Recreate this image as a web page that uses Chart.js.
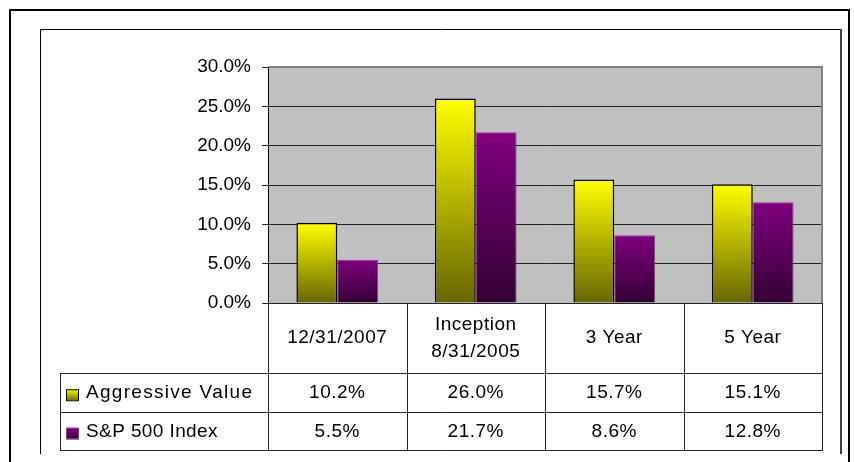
<!DOCTYPE html>
<html>
<head>
<meta charset="utf-8">
<script src="https://cdn.jsdelivr.net/npm/chart.js@4"></script>
<style>
  body { margin: 0; background: #fff; }
  canvas { display: block; }
</style>
</head>
<body>
<canvas id="chart" width="854" height="462"></canvas>
<script>
// Chart values
const categories = ["12/31/2007", ["Inception", "8/31/2005"], "3 Year", "5 Year"];
const aggressiveValue = [10.2, 26.0, 15.7, 15.1];
const sp500 = [5.5, 21.7, 8.6, 12.8];
const seriesNames = ["Aggressive Value", "S&P 500 Index"];

const FONT = "19px 'Liberation Sans', Arial, sans-serif";

// vertical gradient for each bar, from its top down to the zero line
function barGradient(top, bottom) {
    return ctx => {
        const chart = ctx.chart;
        if (!chart.chartArea || ctx.raw == null) return top;
        const y = chart.scales.y;
        const g = chart.ctx.createLinearGradient(0, y.getPixelForValue(ctx.raw), 0, y.getPixelForValue(0));
        g.addColorStop(0, top);
        g.addColorStop(1, bottom);
        return g;
    };
}

const frameAndTable = {
    id: "frameAndTable",
    beforeDraw(chart) {
        const { ctx, chartArea: a } = chart;
        ctx.save();
        ctx.fillStyle = "#c0c0c0";
        ctx.fillRect(a.left, a.top, a.right - a.left, a.bottom - a.top);
        ctx.restore();
    },
    afterDraw(chart) {
        const { ctx, chartArea: a } = chart;
        const x = chart.scales.x;
        const colW = (a.right - a.left) / categories.length;
        ctx.save();

        // outer frames
        ctx.strokeStyle = "#000";
        ctx.lineWidth = 2;
        ctx.beginPath();
        ctx.moveTo(10, 470); ctx.lineTo(10, 10); ctx.lineTo(849, 10); ctx.lineTo(849, 470);
        ctx.stroke();
        ctx.lineWidth = 1;
        ctx.beginPath();
        ctx.moveTo(40.5, 454); ctx.lineTo(40.5, 29.5); ctx.lineTo(840.5, 29.5);
        ctx.stroke();
        ctx.strokeStyle = "#404040";
        ctx.lineWidth = 2;
        ctx.beginPath();
        ctx.moveTo(841, 29); ctx.lineTo(841, 454);
        ctx.stroke();

        // plot area top/right border
        ctx.strokeStyle = "#808080";
        ctx.lineWidth = 2;
        ctx.beginPath();
        ctx.moveTo(a.left, a.top); ctx.lineTo(a.right, a.top); ctx.lineTo(a.right, a.bottom);
        ctx.stroke();

        // data table
        const rowTop = 373, rowH = 38.5, legendLeft = 60.5;
        const tableBottom = rowTop + rowH * 2;
        ctx.strokeStyle = "#222";
        ctx.lineWidth = 1;
        ctx.beginPath();
        ctx.moveTo(a.left, a.bottom + 0.5); ctx.lineTo(a.right, a.bottom + 0.5);
        for (let r = 0; r <= 2; r++) {
            const yy = Math.round(rowTop + rowH * r) + 0.5;
            ctx.moveTo(legendLeft, yy); ctx.lineTo(a.right, yy);
        }
        ctx.moveTo(legendLeft, rowTop); ctx.lineTo(legendLeft, tableBottom + 1);
        for (let i = 0; i <= categories.length; i++) {
            const xx = Math.round(a.left + colW * i) + 0.5;
            ctx.moveTo(xx, a.bottom); ctx.lineTo(xx, tableBottom + 1);
        }
        ctx.stroke();

        ctx.fillStyle = "#000";
        ctx.font = FONT;
        ctx.letterSpacing = "0.5px";
        ctx.textAlign = "center";
        ctx.textBaseline = "middle";
        const headMid = (a.bottom + rowTop) / 2;
        categories.forEach((c, i) => {
            const cx = x.getPixelForValue(i);
            const lines = Array.isArray(c) ? c : [c];
            lines.forEach((l, j) => {
                ctx.fillText(l, cx, headMid + (j - (lines.length - 1) / 2) * 27);
            });
        });

        const rows = [aggressiveValue, sp500];
        const boxes = [
            { top: "#ffff00", bottom: "#666600", border: "#000" },
            { top: "#800080", bottom: "#330033", border: "#993399" }
        ];
        rows.forEach((vals, r) => {
            const mid = rowTop + rowH * r + rowH / 2 + 1;
            vals.forEach((v, i) => {
                ctx.textAlign = "center";
                ctx.fillText(v.toFixed(1) + "%", x.getPixelForValue(i), mid);
            });
            // legend key
            const b = boxes[r];
            const g = ctx.createLinearGradient(0, mid - 4, 0, mid + 8);
            g.addColorStop(0, b.top);
            g.addColorStop(1, b.bottom);
            ctx.fillStyle = g;
            ctx.fillRect(66, mid - 4, 12, 11);
            ctx.strokeStyle = b.border;
            ctx.strokeRect(66.5, mid - 3.5, 12, 11);
            ctx.fillStyle = "#000";
            ctx.textAlign = "left";
            ctx.letterSpacing = r === 0 ? "1.3px" : "0.4px";
            ctx.fillText(seriesNames[r], 86, mid);
            ctx.letterSpacing = "0.5px";
        });
        ctx.restore();
    }
};

new Chart(document.getElementById("chart").getContext("2d"), {
    type: "bar",
    data: {
        labels: categories,
        datasets: [
            {
                label: seriesNames[0],
                data: aggressiveValue,
                backgroundColor: barGradient("#ffff00", "#666600"),
                borderColor: "#000",
                borderWidth: 1.5,
                borderSkipped: "bottom"
            },
            {
                label: seriesNames[1],
                data: sp500,
                backgroundColor: barGradient("#800080", "#330033"),
                borderColor: "#993399",
                borderWidth: 1,
                borderSkipped: "bottom"
            }
        ]
    },
    options: {
        responsive: false,
        animation: false,
        events: [],
        datasets: {
            bar: { categoryPercentage: 0.59, barPercentage: 1 }
        },
        layout: { padding: { left: 0, top: 67, right: 32, bottom: 159 } },
        plugins: {
            legend: { display: false },
            tooltip: { enabled: false }
        },
        scales: {
            x: { display: false },
            y: {
                min: 0,
                max: 30,
                afterFit: scale => { scale.width = 268; },
                ticks: {
                    stepSize: 5,
                    padding: 11,
                    color: "#000",
                    font: { family: "'Liberation Sans', Arial, sans-serif", size: 19 },
                    callback: v => v.toFixed(1) + "%"
                },
                grid: {
                    color: "#222",
                    lineWidth: 1,
                    tickLength: 6
                },
                border: { color: "#000", width: 1 }
            }
        }
    },
    plugins: [frameAndTable]
});
</script>
</body>
</html>
